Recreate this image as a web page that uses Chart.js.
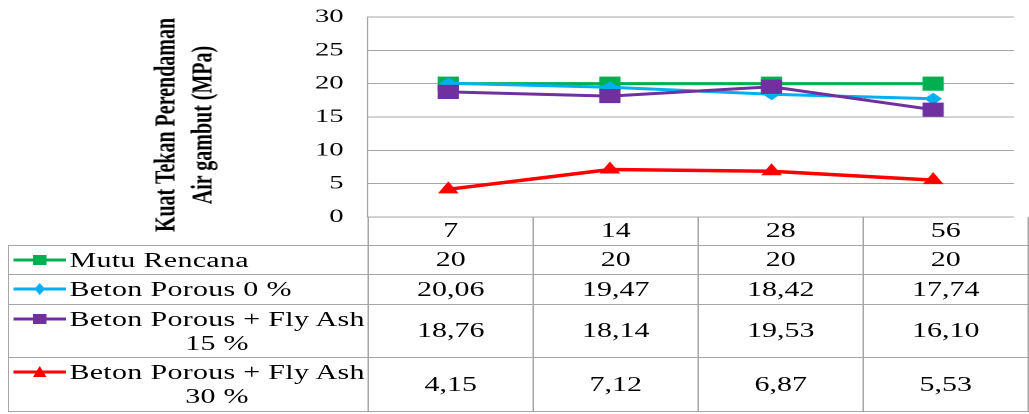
<!doctype html>
<html lang="id">
<head>
<meta charset="utf-8">
<title>Kuat Tekan Perendaman Air gambut</title>
<script src="https://cdn.jsdelivr.net/npm/chart.js@4.4.0/dist/chart.umd.min.js"></script>
<style>
  html, body { margin: 0; padding: 0; background: #fff; overflow: hidden; }
  #wrap {
    position: relative; width: 686px; height: 414px;
    transform: scaleX(1.5); transform-origin: 0 0;
    font-family: "Liberation Serif", "Times New Roman", serif; color: #000;
  }
  #chart { position: absolute; left: 0; top: 0; }
  #ytitle {
    position: absolute; left: -8px; top: 100px; width: 260px; height: 50px;
    transform: rotate(-90deg); transform-origin: 50% 50%;
    font-weight: bold; font-size: 20px; line-height: 25px; text-align: center;
    white-space: nowrap;
  }
  #tbl {
    position: absolute; left: 5.3px; top: 217px; width: 679.7px;
    border-collapse: collapse; table-layout: fixed; font-size: 20px;
  }
  #tbl td { border: 1px solid #a6a6a6; padding: 0; text-align: center; vertical-align: middle; }
  #tbl tr.hdr td { border-top: none; }
  #tbl tr.hdr td.blank { border-left: none; }
  #tbl td.name { text-align: left; line-height: 24px; }
  .lab { display: flex; align-items: flex-start; }
  .lab svg { flex: none; margin: 5px 1px 0 2px; }
  .lab span { display: inline-block; text-align: center; letter-spacing: 0.2px; }
</style>
</head>
<body>
<div id="wrap">
  <canvas id="chart" width="686" height="240"></canvas>
  <div id="ytitle">Kuat Tekan Perendaman<br>Air gambut (MPa)</div>
  <table id="tbl"></table>
</div>

<script>
// umur (hari)
const days = ['7', '14', '28', '56'];

const mutuRencana = [20, 20, 20, 20];
const porous0     = [20.06, 19.47, 18.42, 17.74];
const flyAsh15    = [18.76, 18.14, 19.53, 16.10];
const flyAsh30    = [4.15, 7.12, 6.87, 5.53];

const seriesNames = [
  'Mutu Rencana',
  'Beton Porous 0 %',
  'Beton Porous + Fly Ash<br>15 %',
  'Beton Porous + Fly Ash<br>30 %'
];
const seriesData   = [mutuRencana, porous0, flyAsh15, flyAsh30];
const seriesDec    = [0, 2, 2, 2];
const seriesColors = ['#00b050', '#00b0f0', '#7030a0', '#ff0000'];
const seriesPoint  = ['rect', 'rectRot', 'rect', 'triangle'];
const seriesRadius = [10, 6, 10, 8];
const rowHeights   = [29, 30, 53, 54];

const yMin = 0, yMax = 30, yStep = 5;

// data table under the chart
function fmt(v, d) { return v.toFixed(d).replace('.', ','); }

function keySvg(i) {
  const c = seriesColors[i];
  let m;
  if (seriesPoint[i] === 'rect') {
    m = '<rect x="14" y="2" width="9" height="10" fill="' + c + '"/>';
  } else if (seriesPoint[i] === 'rectRot') {
    m = '<polygon points="18.5,1 22,7 18.5,13 15,7" fill="' + c + '"/>';
  } else {
    m = '<polygon points="18.5,1 23,12 14,12" fill="' + c + '"/>';
  }
  return '<svg width="37" height="14" viewBox="0 0 37 14">' +
    '<line x1="1" y1="7" x2="36" y2="7" stroke="' + c + '" stroke-width="3"/>' + m + '</svg>';
}

let html = '<colgroup><col style="width:239.7px">';
days.forEach(() => { html += '<col style="width:110px">'; });
html += '</colgroup><tr class="hdr" style="height:28px"><td class="blank"></td>';
days.forEach(d => { html += '<td>' + d + '</td>'; });
html += '</tr>';
seriesData.forEach((arr, i) => {
  html += '<tr style="height:' + rowHeights[i] + 'px"><td class="name"><div class="lab">' +
    keySvg(i) + '<span>' + seriesNames[i] + '</span></div></td>';
  arr.forEach(v => { html += '<td>' + fmt(v, seriesDec[i]) + '</td>'; });
  html += '</tr>';
});
document.getElementById('tbl').innerHTML = html;

// line chart
const ctx = document.getElementById('chart').getContext('2d');
new Chart(ctx, {
  type: 'line',
  data: {
    labels: days,
    datasets: seriesData.map((arr, i) => ({
      label: seriesNames[i].replace('<br>', ' '),
      data: arr,
      borderColor: seriesColors[i],
      backgroundColor: seriesColors[i],
      borderWidth: i === 3 ? 3.5 : 3,
      pointStyle: seriesPoint[i],
      pointRadius: seriesRadius[i],
      pointBorderWidth: 0,
      tension: 0,
      fill: false,
      order: 4 - i
    }))
  },
  options: {
    responsive: false,
    animation: false,
    devicePixelRatio: 2,
    layout: { padding: { left: 0, right: 1, top: 17, bottom: 23 } },
    plugins: { legend: { display: false }, tooltip: { enabled: false } },
    scales: {
      x: { display: false, offset: true },
      y: {
        min: yMin, max: yMax,
        afterFit: s => {
          s.width = 245;
          // tick padding should only push labels sideways, not shrink the plot
          s.paddingTop = 0;
          s.paddingBottom = 0;
        },
        ticks: {
          stepSize: yStep,
          padding: 16,
          color: '#000',
          font: { family: 'Liberation Serif', size: 19 }
        },
        grid: { color: '#a6a6a6', lineWidth: 1, drawTicks: false },
        border: { display: true, color: '#a6a6a6', width: 1 }
      }
    }
  }
});
</script>
</body>
</html>
